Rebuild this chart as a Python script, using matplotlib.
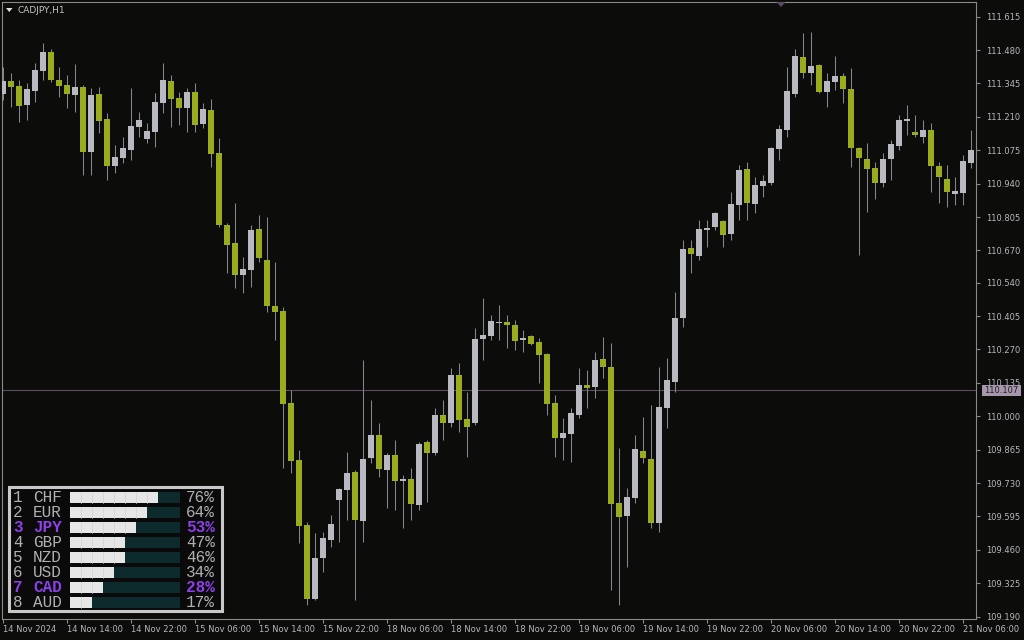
import math
import matplotlib
matplotlib.use("Agg")
import matplotlib.pyplot as plt
from matplotlib.patches import Rectangle, Polygon

# ---------------- data ----------------
symbol_title = "CADJPY,H1"

opens = [111.303, 111.355, 111.335, 111.258, 111.315, 111.396, 111.472, 111.359, 111.339, 111.299,
         111.331, 111.068, 111.303, 111.202, 111.012, 111.044, 111.076, 111.169, 111.121, 111.149,
         111.266, 111.355, 111.286, 111.246, 111.311, 111.181, 111.238, 111.064, 110.773, 110.700,
         110.571, 110.591, 110.757, 110.632, 110.446, 110.425, 110.054, 109.823, 109.560, 109.261,
         109.427, 109.500, 109.661, 109.702, 109.775, 109.577, 109.831, 109.924, 109.783, 109.843,
         109.738, 109.746, 109.641, 109.896, 109.851, 110.005, 109.973, 110.167, 109.989, 109.973,
         110.312, 110.324, 110.377, 110.381, 110.369, 110.308, 110.324, 110.300, 110.252, 110.054,
         109.912, 109.928, 110.005, 110.126, 110.118, 110.231, 110.199, 109.649, 109.597, 109.670,
         109.860, 109.827, 109.569, 110.033, 110.138, 110.397, 110.680, 110.648, 110.753, 110.765,
         110.789, 110.737, 110.854, 110.999, 110.858, 110.931, 110.943, 111.080, 111.157, 111.303,
         111.452, 111.387, 111.420, 111.311, 111.351, 111.375, 111.323, 111.084, 111.040, 111.003,
         110.943, 111.040, 111.092, 111.193, 111.149, 111.129, 111.157, 111.012, 110.959, 110.898,
         110.902, 111.024]
highs = [111.412, 111.387, 111.359, 111.347, 111.428, 111.509, 111.484, 111.412, 111.379, 111.424,
         111.339, 111.327, 111.331, 111.226, 111.096, 111.129, 111.327, 111.230, 111.185, 111.307,
         111.428, 111.379, 111.311, 111.327, 111.347, 111.266, 111.282, 111.125, 110.781, 110.862,
         110.644, 110.773, 110.813, 110.805, 110.624, 110.442, 110.106, 109.864, 109.573, 109.528,
         109.532, 109.601, 109.710, 109.856, 109.783, 110.227, 110.066, 109.973, 109.851, 109.904,
         109.763, 109.791, 109.896, 109.904, 110.033, 110.066, 110.195, 110.215, 110.098, 110.357,
         110.478, 110.409, 110.450, 110.409, 110.389, 110.349, 110.328, 110.316, 110.256, 110.086,
         109.993, 110.033, 110.195, 110.187, 110.260, 110.320, 110.296, 109.872, 109.710, 109.924,
         109.997, 110.046, 110.199, 110.235, 110.502, 110.712, 110.712, 110.793, 110.793, 110.826,
         110.793, 110.906, 111.016, 111.028, 110.967, 110.975, 111.088, 111.177, 111.412, 111.484,
         111.549, 111.553, 111.424, 111.387, 111.456, 111.387, 111.408, 111.088, 111.105, 111.028,
         111.064, 111.117, 111.218, 111.258, 111.218, 111.197, 111.185, 111.028, 111.016, 110.967,
         111.056, 111.157]
lows = [111.278, 111.250, 111.189, 111.197, 111.270, 111.359, 111.351, 111.290, 111.246, 111.230,
        110.975, 110.975, 111.145, 110.955, 110.983, 111.024, 111.036, 111.129, 111.105, 111.088,
        111.226, 111.169, 111.177, 111.149, 111.149, 111.165, 111.007, 110.765, 110.579, 110.518,
        110.498, 110.522, 110.624, 110.421, 110.308, 109.791, 109.771, 109.488, 109.237, 109.257,
        109.370, 109.472, 109.492, 109.581, 109.257, 109.492, 109.811, 109.754, 109.629, 109.621,
        109.548, 109.581, 109.621, 109.653, 109.843, 109.904, 109.957, 109.936, 109.835, 109.965,
        110.227, 110.308, 110.308, 110.276, 110.268, 110.260, 110.288, 110.134, 110.005, 109.835,
        109.823, 109.815, 109.993, 110.033, 110.074, 110.155, 109.298, 109.237, 109.391, 109.649,
        109.811, 109.548, 109.532, 109.953, 110.098, 110.361, 110.579, 110.632, 110.684, 110.753,
        110.684, 110.712, 110.793, 110.793, 110.822, 110.886, 110.935, 111.036, 111.129, 111.290,
        111.367, 111.339, 111.307, 111.250, 111.319, 111.266, 111.007, 110.652, 110.826, 110.878,
        110.927, 110.955, 111.076, 111.137, 111.129, 111.105, 110.906, 110.862, 110.846, 110.854,
        110.854, 111.003]
closes = [111.355, 111.331, 111.254, 111.323, 111.400, 111.472, 111.359, 111.335, 111.303, 111.331,
          111.068, 111.299, 111.193, 111.012, 111.048, 111.084, 111.173, 111.197, 111.153, 111.270,
          111.359, 111.282, 111.246, 111.311, 111.177, 111.242, 111.060, 110.773, 110.692, 110.571,
          110.595, 110.753, 110.640, 110.446, 110.421, 110.050, 109.819, 109.556, 109.261, 109.427,
          109.508, 109.564, 109.706, 109.771, 109.581, 109.827, 109.924, 109.787, 109.843, 109.738,
          109.746, 109.645, 109.888, 109.851, 110.005, 109.973, 110.167, 109.985, 109.957, 110.312,
          110.328, 110.385, 110.381, 110.369, 110.304, 110.316, 110.292, 110.248, 110.050, 109.912,
          109.932, 110.013, 110.126, 110.114, 110.227, 110.199, 109.645, 109.593, 109.674, 109.868,
          109.831, 109.569, 110.037, 110.147, 110.397, 110.676, 110.656, 110.757, 110.761, 110.822,
          110.733, 110.858, 110.995, 110.862, 110.935, 110.951, 111.084, 111.161, 111.315, 111.456,
          111.387, 111.416, 111.311, 111.355, 111.375, 111.323, 111.084, 111.044, 110.999, 110.943,
          111.040, 111.100, 111.197, 111.202, 111.137, 111.157, 111.012, 110.967, 110.906, 110.910,
          111.032, 111.076]

time_labels = ["14 Nov 2024", "14 Nov 14:00", "14 Nov 22:00", "15 Nov 06:00", "15 Nov 14:00",
               "15 Nov 22:00", "18 Nov 06:00", "18 Nov 14:00", "18 Nov 22:00", "19 Nov 06:00",
               "19 Nov 14:00", "19 Nov 22:00", "20 Nov 06:00", "20 Nov 14:00", "20 Nov 22:00",
               "21 Nov 06:00"]
bars_per_label = 8

price_labels = ["111.615", "111.480", "111.345", "111.210", "111.075", "110.940", "110.805",
                "110.670", "110.540", "110.405", "110.270", "110.135", "110.000", "109.865",
                "109.730", "109.595", "109.460", "109.325", "109.190"]
level_price = 110.107
level_label = "110.107"
shift_marker_bar = 97.25

currencies = ["CHF", "EUR", "JPY", "GBP", "NZD", "USD", "CAD", "AUD"]
strengths = [76, 64, 53, 47, 46, 34, 28, 17]
highlighted = ["JPY", "CAD"]

# ---------------- style ----------------
BG = "#0c0c0b"
BULL = "#b9b9c1"
BEAR = "#9bab1e"
WICK = "#85858d"
FRAME = "#8a8a8a"
TXT = "#b8b8bc"

W, H = 1024, 640
fig = plt.figure(figsize=(W / 100, H / 100), dpi=100, facecolor=BG)

x0, x1, y0, y1 = 2, 976, 2, 619
ax = fig.add_axes([x0 / W, 1 - y1 / H, (x1 - x0) / W, (y1 - y0) / H])
ax.set_facecolor(BG)

n = len(opens)
xs = list(range(n))
ax.set_xlim(-0.125, -0.125 + (x1 - x0) / 8.0)
ax.set_ylim(109.1805, 111.674)

# level line
ax.axhline(level_price, color="#5e4c60", lw=0.8, zorder=1)

# candles
cols = [BULL if c >= o else BEAR for o, c in zip(opens, closes)]
ax.vlines(xs, lows, highs, colors=WICK, lw=0.75, zorder=2)
bottoms = [min(o, c) for o, c in zip(opens, closes)]
heights = [max(abs(c - o), 0.0045) for o, c in zip(opens, closes)]
ax.bar(xs, heights, bottom=bottoms, width=0.82, color=cols, linewidth=0, zorder=3)

# axes styling
for sp in ax.spines.values():
    sp.set_color(FRAME)
    sp.set_linewidth(0.8)
ax.yaxis.tick_right()
ax.set_yticks([float(s) for s in price_labels])
ax.set_yticklabels(price_labels)
ax.set_xticks([i * bars_per_label for i in range(len(time_labels))])
ax.set_xticklabels(time_labels, ha="left")
ax.tick_params(axis="y", colors=FRAME, labelcolor=TXT, labelsize=6, length=3, width=0.8, pad=4)
ax.tick_params(axis="x", colors=FRAME, labelcolor=TXT, labelsize=6, length=3, width=0.8, pad=1.5)
for lbl in ax.get_yticklabels() + ax.get_xticklabels():
    lbl.set_fontfamily("DejaVu Sans")

# ---------------- overlay (pixel coords) ----------------
ov = fig.add_axes([0, 0, 1, 1], facecolor="none")
ov.set_xlim(0, W)
ov.set_ylim(H, 0)
ov.axis("off")

# title
ov.add_patch(Polygon([(6, 8), (12.5, 8), (9.25, 12)], closed=True, color="#e0e0e0", lw=0))
ov.text(18, 10.5, symbol_title, fontsize=6.5, color="#c4c4c4", va="center", ha="left",
        family="DejaVu Sans")

# shift marker at top
mx = x0 + (shift_marker_bar + 0.125) * 8
ov.add_patch(Polygon([(mx - 4.5, 2), (mx + 4.5, 2), (mx, 7)], closed=True, color="#5a4a5e", lw=0))

# current level price box
ov.add_patch(Rectangle((982, 384.5), 39, 11, facecolor="#a797ad", edgecolor="none", zorder=5))
ov.text(1001.5, 390.3, level_label, fontsize=6, color="#222026", ha="center", va="center",
        family="DejaVu Sans", zorder=6)

# strength panel
ov.add_patch(Rectangle((8.5, 486.5), 213, 124.5, facecolor="#0a0a0a", edgecolor="#c9c9c9",
                       lw=2.2, zorder=5))
bar_x, bar_w, bar_h = 70, 110, 11
for i, (cur, val) in enumerate(zip(currencies, strengths)):
    yc = 497 + 15 * i
    hl = cur in highlighted
    color = "#8c40e6" if hl else "#b0b0b0"
    weight = "bold" if hl else "normal"
    ov.add_patch(Rectangle((bar_x, yc - bar_h / 2), bar_w, bar_h, facecolor="#0d2b2d",
                           edgecolor="none", zorder=6))
    frac = math.ceil(val / 10) / 10
    fw = bar_w * frac
    ov.add_patch(Rectangle((bar_x, yc - bar_h / 2), fw, bar_h, facecolor="#e6e6e6",
                           edgecolor="none", zorder=7))
    seg = bar_w / 10
    s = 1
    while s * seg < fw - 0.5:
        ov.plot([bar_x + s * seg, bar_x + s * seg], [yc - bar_h / 2, yc + bar_h / 2],
                color="#d2d2d2", lw=0.5, zorder=8)
        s += 1
    ov.text(13, yc + 0.5, str(i + 1), fontsize=11.5, family="Liberation Mono", color=color,
            weight=weight, ha="left", va="center", zorder=9)
    ov.text(33, yc + 0.5, cur, fontsize=11.5, family="Liberation Mono", color=color,
            weight=weight, ha="left", va="center", zorder=9)
    ov.text(215, yc + 0.5, f"{val}%", fontsize=11.5, family="Liberation Mono", color=color,
            weight=weight, ha="right", va="center", zorder=9)

fig.savefig("out.png", dpi=100, facecolor=BG)
